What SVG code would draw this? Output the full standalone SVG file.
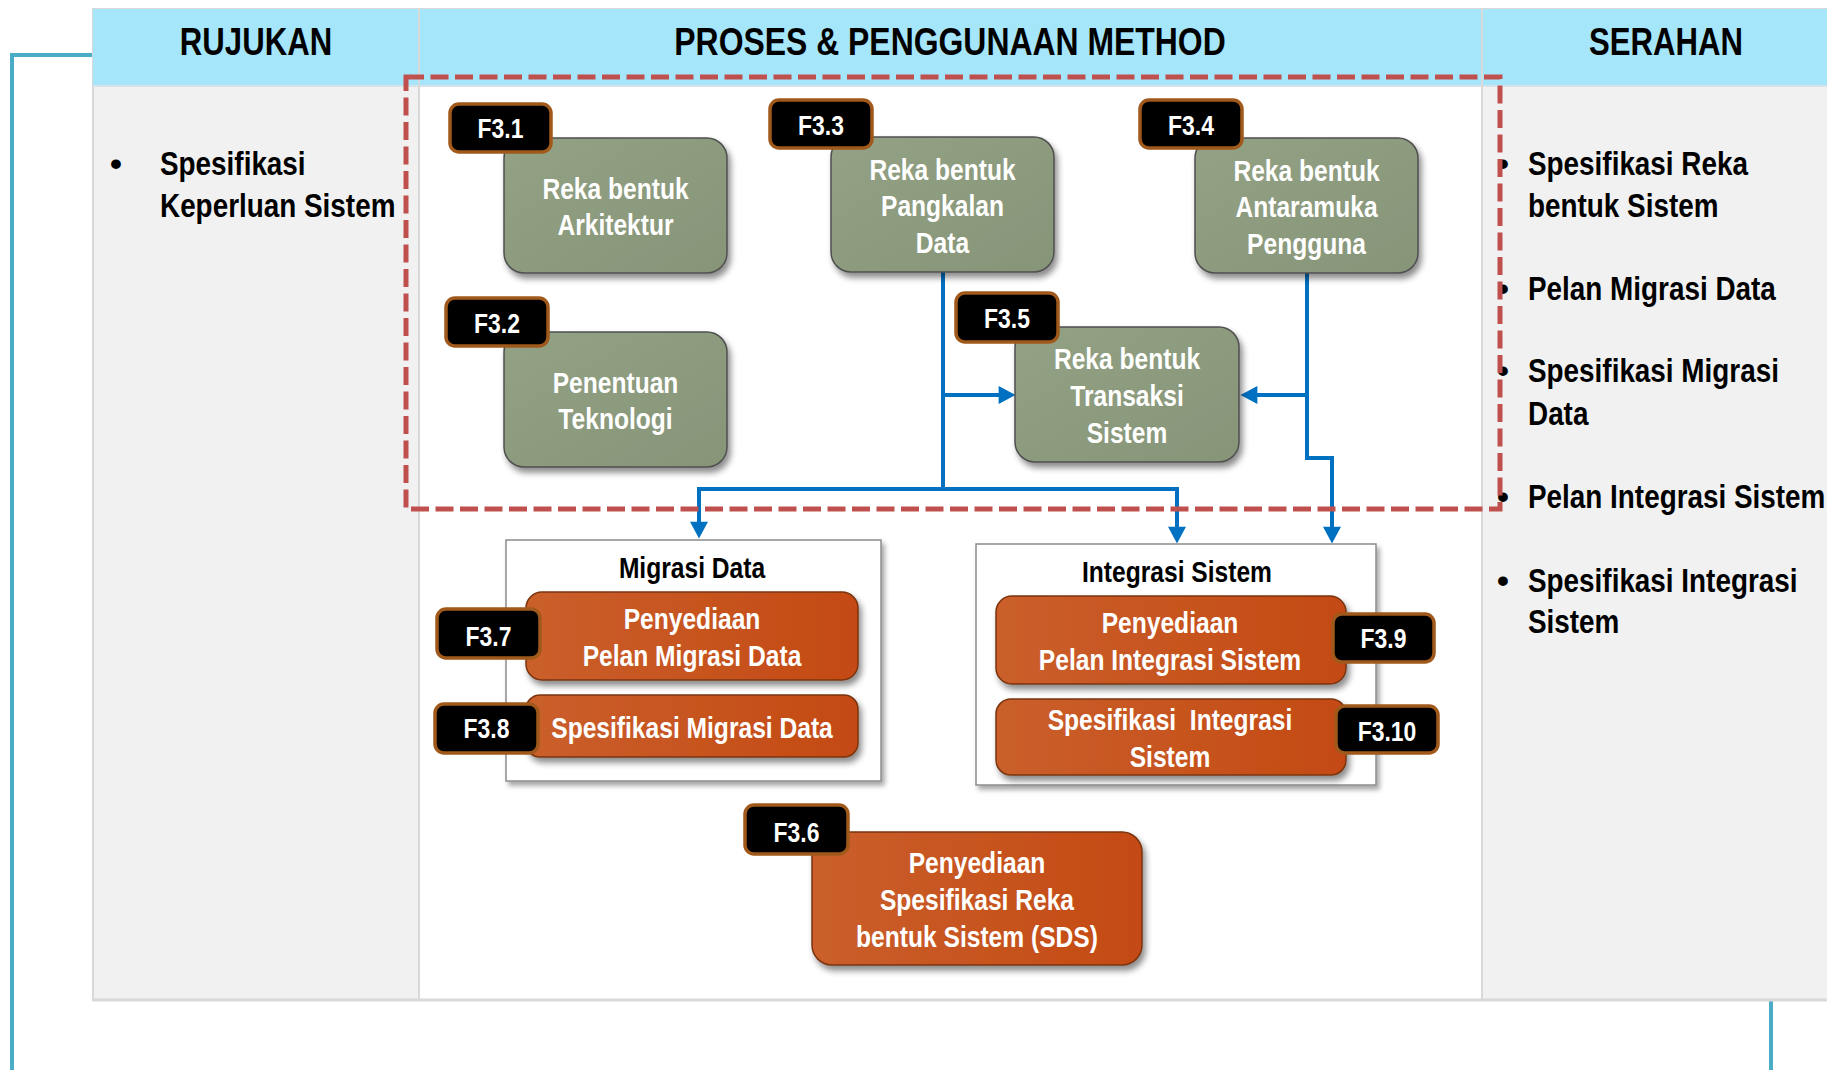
<svg xmlns="http://www.w3.org/2000/svg" width="1827" height="1070" viewBox="0 0 1827 1070">
<defs>
<style>
text{font-family:"Liberation Sans",Arial,sans-serif;font-weight:bold}
.hdr{font-size:38px;fill:#000;text-anchor:middle}
.blt{font-size:34px;fill:#000}
.bul{font-size:34px;fill:#000;text-anchor:middle}
.nt{font-size:30px;fill:#fff;text-anchor:middle}
.bt{font-size:28px;fill:#fff;text-anchor:middle}
.tt{font-size:30px;fill:#000;text-anchor:middle}
.gn{fill:url(#gg);stroke:#4f4f4f;stroke-width:1.5;filter:url(#sh)}
.or{fill:url(#og);stroke:#7a3410;stroke-width:1.5;filter:url(#sh)}
.bd{fill:#000;stroke:#A0591B;stroke-width:3.5}
.box{fill:#fff;stroke:#8C8C8C;stroke-width:1.5;filter:url(#sh2)}
.cn{fill:none;stroke:#0070C0;stroke-width:4;marker-end:url(#ah)}
.cl{fill:none;stroke:#0070C0;stroke-width:4}
</style>
<linearGradient id="gg" x1="0" y1="0" x2="1" y2="1">
<stop offset="0" stop-color="#93A184"/>
<stop offset="1" stop-color="#869478"/>
</linearGradient>
<linearGradient id="og" x1="0" y1="0" x2="1" y2="0">
<stop offset="0" stop-color="#CA5F2C"/>
<stop offset="1" stop-color="#C44A13"/>
</linearGradient>
<filter id="sh" x="-10%" y="-10%" width="130%" height="140%">
<feDropShadow dx="3" dy="5" stdDeviation="3" flood-color="#000" flood-opacity="0.45"/>
</filter>
<filter id="sh2" x="-10%" y="-10%" width="130%" height="130%">
<feDropShadow dx="3" dy="4" stdDeviation="2.5" flood-color="#000" flood-opacity="0.35"/>
</filter>
<marker id="ah" markerUnits="userSpaceOnUse" markerWidth="18" markerHeight="18" viewBox="0 0 16 17" refX="6" refY="8.5" orient="auto">
<path d="M0,0 L16,8.5 L0,17 z" fill="#0070C0"/>
</marker>
</defs>

<g id="frame">
<path d="M93,55 H12 V1070" fill="none" stroke="#4BACC6" stroke-width="4"/>
<path d="M1771,1000 V1070" fill="none" stroke="#4BACC6" stroke-width="4"/>
<rect x="93" y="9" width="1745" height="991" fill="#F1F1F1" stroke="#D9D9D9" stroke-width="2"/>
<rect x="419" y="85" width="1063" height="915" fill="#FFFFFF"/>
<rect x="93" y="9" width="1745" height="76" fill="#A6E6FB"/>
<line x1="93" y1="86" x2="1827" y2="86" stroke="#D6E4EA" stroke-width="2"/>
<line x1="419" y1="9" x2="419" y2="1000" stroke="#D9D9D9" stroke-width="2"/>
<line x1="1482" y1="9" x2="1482" y2="1000" stroke="#D9D9D9" stroke-width="2"/>
<line x1="93" y1="1000" x2="1827" y2="1000" stroke="#D9D9D9" stroke-width="3"/>
<text class="hdr" transform="translate(256 55) scale(0.82 1)">RUJUKAN</text>
<text class="hdr" transform="translate(950 55) scale(0.84 1)">PROSES &amp; PENGGUNAAN METHOD</text>
<text class="hdr" transform="translate(1666 55) scale(0.82 1)">SERAHAN</text>
</g>

<g id="rujukan">
<text class="bul" x="116" y="175">•</text>
<text class="blt" transform="translate(160 175) scale(0.82 1)"><tspan x="0" y="0">Spesifikasi</tspan><tspan x="0" y="42">Keperluan Sistem</tspan></text>
</g>

<g id="serahan">
<text class="bul" x="1503" y="175">•</text>
<text class="blt" transform="translate(1528 175) scale(0.82 1)"><tspan x="0" y="0">Spesifikasi Reka</tspan><tspan x="0" y="42">bentuk Sistem</tspan></text>
<text class="bul" x="1503" y="300">•</text>
<text class="blt" transform="translate(1528 300) scale(0.82 1)">Pelan Migrasi Data</text>
<text class="bul" x="1503" y="382">•</text>
<text class="blt" transform="translate(1528 382) scale(0.82 1)"><tspan x="0" y="0">Spesifikasi Migrasi</tspan><tspan x="0" y="43">Data</tspan></text>
<text class="bul" x="1503" y="508">•</text>
<text class="blt" transform="translate(1528 508) scale(0.82 1)">Pelan Integrasi Sistem</text>
<text class="bul" x="1503" y="592">•</text>
<text class="blt" transform="translate(1528 592) scale(0.82 1)"><tspan x="0" y="0">Spesifikasi Integrasi</tspan><tspan x="0" y="41">Sistem</tspan></text>
</g>

<g id="connectors">
<path class="cl" d="M943,272 V489"/>
<path class="cn" d="M943,489 H699 V528"/>
<path class="cn" d="M943,489 H1177 V533"/>
<path class="cn" d="M943,395 H1005"/>
<path class="cn" d="M1307,273 V458 H1332 V533"/>
<path class="cn" d="M1307,395 H1251"/>
</g>

<g id="n-f31">
<rect class="gn" x="504" y="138" width="223" height="135" rx="20"/>
<text class="nt" transform="translate(615.5 199) scale(0.82 1)"><tspan x="0" y="0">Reka bentuk</tspan><tspan x="0" y="36">Arkitektur</tspan></text>
<rect class="bd" x="450" y="104" width="101" height="48" rx="9"/>
<text class="bt" transform="translate(500.5 138) scale(0.82 1)">F3.1</text>
</g>

<g id="n-f32">
<rect class="gn" x="504" y="332" width="223" height="135" rx="20"/>
<text class="nt" transform="translate(615.5 393) scale(0.82 1)"><tspan x="0" y="0">Penentuan</tspan><tspan x="0" y="36">Teknologi</tspan></text>
<rect class="bd" x="446" y="298" width="102" height="48" rx="9"/>
<text class="bt" transform="translate(497 333) scale(0.82 1)">F3.2</text>
</g>

<g id="n-f33">
<rect class="gn" x="831" y="137" width="223" height="135" rx="20"/>
<text class="nt" transform="translate(942.5 180) scale(0.82 1)"><tspan x="0" y="0">Reka bentuk</tspan><tspan x="0" y="36.5">Pangkalan</tspan><tspan x="0" y="73">Data</tspan></text>
<rect class="bd" x="770" y="100" width="102" height="48" rx="9"/>
<text class="bt" transform="translate(821 135) scale(0.82 1)">F3.3</text>
</g>

<g id="n-f34">
<rect class="gn" x="1195" y="138" width="223" height="135" rx="20"/>
<text class="nt" transform="translate(1306.5 181) scale(0.82 1)"><tspan x="0" y="0">Reka bentuk</tspan><tspan x="0" y="36.5">Antaramuka</tspan><tspan x="0" y="73">Pengguna</tspan></text>
<rect class="bd" x="1140" y="100" width="102" height="48" rx="9"/>
<text class="bt" transform="translate(1191 135) scale(0.82 1)">F3.4</text>
</g>

<g id="n-f35">
<rect class="gn" x="1015" y="327" width="224" height="135" rx="20"/>
<text class="nt" transform="translate(1127 369) scale(0.82 1)"><tspan x="0" y="0">Reka bentuk</tspan><tspan x="0" y="37">Transaksi</tspan><tspan x="0" y="74">Sistem</tspan></text>
<rect class="bd" x="956" y="293" width="102" height="49" rx="9"/>
<text class="bt" transform="translate(1007 328) scale(0.82 1)">F3.5</text>
</g>

<g id="g-migrasi">
<rect class="box" x="506" y="540" width="375" height="241"/>
<text class="tt" transform="translate(692 578) scale(0.82 1)">Migrasi Data</text>
</g>

<g id="g-integrasi">
<rect class="box" x="976" y="544" width="400" height="241"/>
<text class="tt" transform="translate(1177 582) scale(0.82 1)">Integrasi Sistem</text>
</g>

<g id="n-f37">
<rect class="or" x="526" y="592" width="332" height="88" rx="16"/>
<text class="nt" transform="translate(692 629) scale(0.82 1)"><tspan x="0" y="0">Penyediaan</tspan><tspan x="0" y="37">Pelan Migrasi Data</tspan></text>
<rect class="bd" x="437" y="609" width="103" height="49" rx="9"/>
<text class="bt" transform="translate(488.5 646) scale(0.82 1)">F3.7</text>
</g>

<g id="n-f38">
<rect class="or" x="526" y="695" width="332" height="62" rx="14"/>
<text class="nt" transform="translate(692 738) scale(0.82 1)">Spesifikasi Migrasi Data</text>
<rect class="bd" x="435" y="704" width="103" height="49" rx="9"/>
<text class="bt" transform="translate(486.5 738) scale(0.82 1)">F3.8</text>
</g>

<g id="n-f39">
<rect class="or" x="996" y="596" width="350" height="88" rx="16"/>
<text class="nt" transform="translate(1170 633) scale(0.82 1)"><tspan x="0" y="0">Penyediaan</tspan><tspan x="0" y="37">Pelan Integrasi Sistem</tspan></text>
<rect class="bd" x="1333" y="614" width="101" height="48" rx="9"/>
<text class="bt" transform="translate(1383.5 648) scale(0.82 1)">F3.9</text>
</g>

<g id="n-f310">
<rect class="or" x="996" y="699" width="350" height="76" rx="15"/>
<text class="nt" xml:space="preserve" transform="translate(1170 730) scale(0.82 1)"><tspan x="0" y="0">Spesifikasi  Integrasi</tspan><tspan x="0" y="37">Sistem</tspan></text>
<rect class="bd" x="1336" y="706" width="102" height="47" rx="9"/>
<text class="bt" transform="translate(1387 741) scale(0.82 1)">F3.10</text>
</g>

<g id="n-f36">
<rect class="or" x="812" y="832" width="330" height="133" rx="20"/>
<text class="nt" transform="translate(977 873) scale(0.82 1)"><tspan x="0" y="0">Penyediaan</tspan><tspan x="0" y="37">Spesifikasi Reka</tspan><tspan x="0" y="74">bentuk Sistem (SDS)</tspan></text>
<rect class="bd" x="745" y="805" width="103" height="49" rx="9"/>
<text class="bt" transform="translate(796.5 842) scale(0.82 1)">F3.6</text>
</g>

<g id="scope">
<rect x="406" y="77" width="1094" height="432" fill="none" stroke="#C0504D" stroke-width="5" stroke-dasharray="18 6.5"/>
</g>
</svg>
